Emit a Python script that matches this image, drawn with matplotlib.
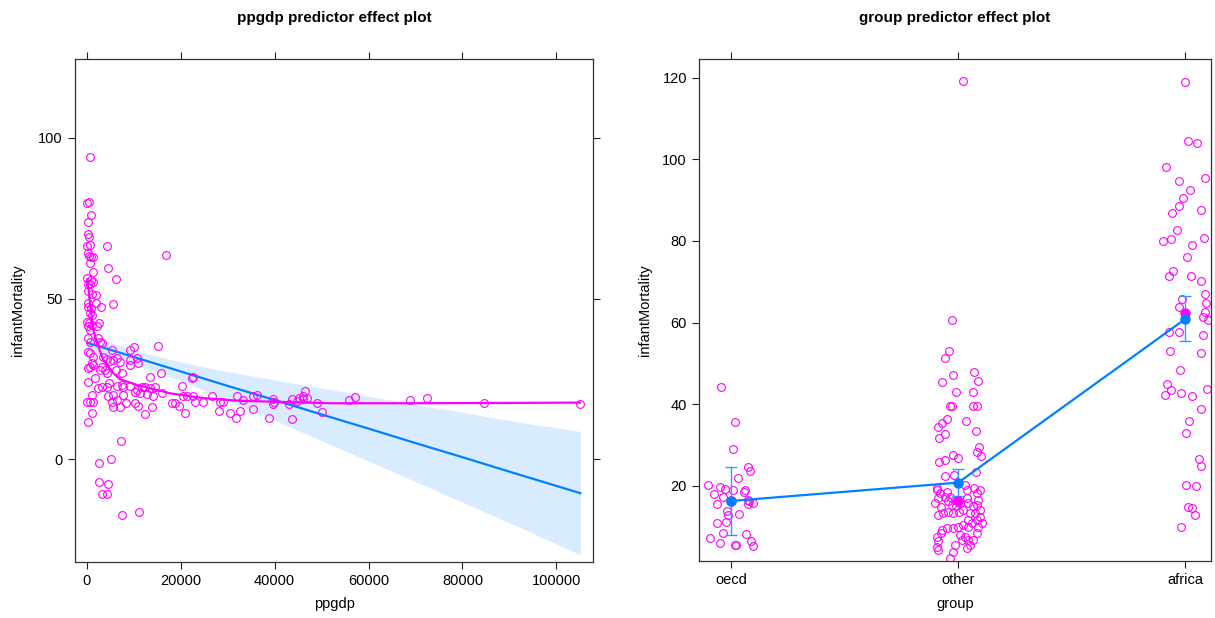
import matplotlib
matplotlib.use("Agg")
import matplotlib.pyplot as plt
import numpy as np

plt.rcParams['font.family'] = ['Liberation Sans', 'DejaVu Sans']

# ---------------- data: left panel (ppgdp partial residuals) ----------------
ppgdp = [680, 110, 530, 900, 320, 200, 530, 680, 110, 4240,
         200, 470, 830, 1380, 16800, 680, 4450, 1380, 6150,
         110, 830, 1380, 680, 320, 320, 1040, 1960, 5500,
         200, 320, 830, 1960, 2960, 680, 1040,
         110, 530, 1040, 2660, 2110, 200, 680,
         2450, 2810, 3170, 320, 680, 15230, 9200, 10050, 5300,
         200, 680, 1380, 1040, 320,
         3500, 4240, 4940, 5640, 6370, 7070,
         9200, 10630, 10970, 9200, 15740, 13460, 7430, 6220,
         680, 1380, 3170, 3880, 2810, 4370, 320, 1750, 22340, 22680,
         2450, 3170, 4240, 4800, 6370, 7430, 7780,
         9200, 10630, 11690, 12400, 13460, 14530, 20210,
         1040, 680, 110, 1380, 4580, 5640, 6370, 7650,
         10270, 11330, 12760, 14160, 15950,
         20560, 21280, 22680, 24820, 26600, 28370, 29070, 31930, 33340, 35460, 36190,
         5300, 5640, 7070, 8350, 10270, 10970,
         18080, 18790, 19700, 20920, 12400, 13820,
         28230, 30500, 31720, 32630, 35340, 1170, 320, 38870,
         7280, 2660, 5090, 2600, 4450, 3170, 4240, 7430, 11180,
         39720, 39590, 39870, 43070, 43770, 44710, 45260, 45990, 46480, 46840, 46120,
         43770, 48970, 50030, 55850, 57190, 68910, 72460, 84600, 105050, 23050]
partial_resid = [93.9, 79.7, 80.2, 76.1, 73.7, 70.2, 69.1, 66.7, 66.2, 66.4,
                 64.3, 63.3, 62.8, 62.8, 63.4, 61.2, 59.5, 58.4, 56.2,
                 56.4, 55.8, 55.0, 54.6, 54.6, 52.2, 51.4, 51.2, 48.3,
                 48.6, 47.5, 47.0, 48.6, 47.3, 45.4, 44.9,
                 42.8, 42.3, 41.8, 42.3, 41.3, 41.3, 40.2,
                 37.7, 36.6, 36.1, 37.7, 36.6, 35.3, 34.0, 34.9, 34.0,
                 33.5, 33.0, 31.9, 29.9, 28.3,
                 31.9, 31.1, 30.4, 30.9, 31.4, 30.1,
                 30.9, 31.4, 29.9, 29.3, 26.9, 25.7, 26.9, 27.8,
                 28.8, 29.3, 28.8, 27.8, 27.6, 26.8, 24.1, 25.2, 25.2, 25.7,
                 22.1, 22.6, 22.6, 23.6, 22.8, 23.1, 22.6,
                 22.8, 21.6, 22.4, 22.6, 22.1, 22.6, 22.8,
                 20.0, 17.9, 17.9, 17.9, 19.5, 20.0, 18.4, 20.0,
                 21.0, 20.5, 20.2, 19.5, 20.5,
                 19.5, 19.5, 19.5, 17.9, 19.5, 17.9, 17.9, 19.5, 18.4, 19.5, 20.0,
                 17.9, 16.2, 16.2, 17.4, 17.4, 16.6,
                 17.4, 17.6, 16.4, 14.3, 14.1, 16.2,
                 15.0, 14.3, 12.7, 15.0, 15.5, 14.3, 11.7, 12.7,
                 5.5, -1.1, 0.1, -7.2, -7.8, -10.9, -10.9, -17.4, -16.4,
                 18.8, 17.2, 17.9, 17.1, 18.8, 18.1, 19.0, 19.8, 21.2, 19.0, 18.8,
                 12.6, 17.4, 14.7, 18.5, 19.3, 18.3, 19.0, 17.6, 17.2, 17.8]

# fitted effect line and confidence band (read at a few ppgdp values)
eff_x = [115, 10000, 20000, 30000, 40000, 50000, 60000, 70000, 80000, 90000, 105095]
eff_fit = [36.2, 31.8, 27.3, 22.8, 18.4, 13.9, 9.5, 5.0, 0.6, -3.9, -10.6]
eff_lower = [33.6, 29.7, 24.4, 18.4, 12.1, 5.7, -0.6, -7.0, -13.4, -19.8, -29.8]
eff_upper = [38.8, 33.9, 30.2, 27.2, 24.7, 22.1, 19.6, 17.0, 14.6, 12.0, 8.6]

# loess smoother of the partial residuals
smooth_x = [115, 680, 1390, 2450, 3500, 5640, 7070, 10630, 17720, 24820,
            31930, 39020, 51800, 70000, 90000, 105050]
smooth_y = [56.0, 48.6, 40.2, 35.0, 30.9, 26.8, 24.9, 23.1, 20.5, 19.0,
            18.2, 17.9, 17.4, 17.4, 17.5, 17.6]

# ---------------- data: right panel (group) ----------------
groups = ["oecd", "other", "africa"]
group_fit = [16.3, 20.8, 60.9]
group_lower = [7.9, 17.5, 55.4]
group_upper = [24.7, 24.1, 66.4]
group_resid_mean = [16.2, 16.2, 62.4]

oecd_jit = [-0.045, 0.019, 0.007, 0.076, 0.085, 0.031, -0.1, -0.048, -0.026, -0.074,
            -0.034, 0.007, 0.062, 0.059, -0.063, 0.075, 0.076, 0.095, 0.08, -0.019,
            -0.015, 0.035, -0.063, -0.023, -0.034, -0.093, 0.067, -0.05, 0.088, 0.018,
            0.023, 0.098]
oecd_res = [44.2, 35.6, 29.1, 24.7, 23.6, 22.0, 20.2, 19.8, 19.2, 18.0,
            17.4, 19.0, 19.0, 18.6, 15.6, 16.6, 15.6, 15.9, 16.2, 13.9,
            12.9, 13.2, 11.0, 11.1, 8.4, 7.3, 8.2, 6.1, 6.6, 5.5,
            5.5, 5.3]

other_jit = [0.022, -0.026, -0.04, -0.057, -0.022, 0.07, 0.088, -0.07, -0.008, 0.067,
             -0.035, -0.026, 0.065, 0.085, -0.05, -0.07, -0.09, 0.033, -0.06, -0.083,
             0.08, 0.093, 0.083, 0.1, -0.022, 0.0, -0.06, -0.085, -0.06, -0.02, 0.079,
             -0.094, -0.079, -0.050, -0.035, -0.013, 0.009, 0.031, 0.041, 0.070, 0.082,
             0.097, -0.101, -0.076, -0.057, -0.028, 0.023, 0.045, 0.085, 0.089, -0.087,
             -0.065, -0.043, -0.021, 0.004, 0.053, 0.075, 0.094, 0.104, 0.045, 0.060,
             0.082, 0.045, 0.023, 0.001, -0.021, -0.050, -0.072, -0.076, -0.094, -0.087,
             -0.094, -0.087, -0.013, -0.021, 0.031, 0.045, 0.053, 0.041, 0.067, 0.082,
             0.089, 0.016, -0.035, 0.009, -0.095, -0.088, -0.044, -0.008, 0.038, 0.066,
             0.097]
other_res = [119.3, 60.7, 53.1, 51.3, 47.2, 47.8, 45.8, 45.4, 43.1, 43.0,
             39.6, 39.6, 39.6, 39.6, 36.5, 35.4, 34.5, 36.0, 32.7, 31.8,
             33.5, 29.6, 28.3, 27.2, 27.6, 26.8, 26.4, 25.8, 22.4, 22.7, 23.3,
             19.0, 18.2, 18.6, 17.4, 16.6, 15.8, 20.2, 19.0, 19.4, 18.2,
             19.0, 15.8, 14.9, 17.4, 15.4, 14.1, 15.8, 15.4, 16.6, 12.9,
             13.3, 13.7, 13.3, 13.7, 13.3, 13.3, 12.5, 10.9, 11.7, 10.9,
             11.7, 10.0, 10.5, 10.0, 9.6, 9.6, 9.2, 8.4, 7.6, 6.4,
             5.1, 4.3, 5.5, 3.9, 7.6, 6.8, 5.5, 4.9, 6.8, 8.4,
             10.0, 6.8, 2.3, 8.0, 19.4, 17.0, 16.2, 15.0, 17.0, 15.0,
             14.0]

africa_jit = [0.0, 0.01, 0.053, -0.085, -0.028, 0.088, 0.022, -0.011, -0.029, -0.057,
              0.069, -0.038, -0.098, -0.062, 0.081, 0.028, 0.007, -0.07, -0.055, 0.025,
              0.07, 0.085, 0.091, -0.016, -0.028, 0.087, 0.078, 0.099, -0.073, -0.026,
              0.077, -0.066, 0.069, -0.025, -0.081, -0.089, -0.065, -0.02, 0.03, 0.097,
              0.07, 0.015, 0.003, 0.062, 0.069, 0.003, 0.047, 0.013, 0.028, 0.044,
              -0.02]
africa_res = [118.9, 104.6, 104.1, 98.1, 94.6, 95.4, 92.6, 90.5, 88.6, 86.9,
              87.6, 82.6, 80.0, 80.5, 80.7, 78.9, 76.1, 71.5, 72.6, 71.5,
              70.1, 67.0, 64.9, 65.8, 63.9, 62.6, 61.3, 60.6, 57.6, 57.7,
              57.0, 53.0, 52.6, 48.4, 44.9, 42.2, 43.5, 42.7, 42.1, 43.8,
              38.9, 35.8, 33.0, 26.5, 24.9, 20.2, 20.0, 14.9, 14.5, 12.9,
              10.0]

# ---------------- styling ----------------
MAG = "#FF00FF"
BLUE = "#0080FF"
BAND = "#D9ECFF"
ERR = "#3399FF"
BOX = "#333333"
MS = 5.6

fig = plt.figure(figsize=(12.15, 6.18), dpi=100)
W, H = 1215.0, 618.0

def axes_px(l, t, r, b):
    return fig.add_axes([l / W, 1 - b / H, (r - l) / W, (b - t) / H])

ax1 = axes_px(75, 59.2, 593, 561.6)
ax2 = axes_px(699.4, 59.3, 1211, 561)

def style(ax, right=True):
    for s in ax.spines.values():
        s.set_color(BOX)
        s.set_linewidth(0.9)
    ax.tick_params(axis="both", which="both", direction="out", length=5, width=0.8,
                   color="#222222", labelsize=10.5, pad=4,
                   top=True, right=right, labeltop=False, labelright=False)

# left panel
ax1.fill_between(eff_x, eff_lower, eff_upper, color=BAND, lw=0, zorder=1)
ax1.plot(eff_x, eff_fit, color=BLUE, lw=1.6, zorder=3)
ax1.plot(ppgdp, partial_resid, ls="none", marker="o", mfc="none", mec=MAG,
         mew=0.8, ms=MS, zorder=4)
ax1.plot(smooth_x, smooth_y, color=MAG, lw=1.6, zorder=5)
ax1.set_xlim(-2513, 107800)
ax1.set_ylim(-31.9, 124.5)
ax1.set_xticks([0, 20000, 40000, 60000, 80000, 100000])
ax1.set_xticklabels(["0", "20000", "40000", "60000", "80000", "100000"])
ax1.set_yticks([0, 50, 100])
style(ax1)

# right panel
pos = {"oecd": 1, "other": 2, "africa": 3}
ax2.plot([pos["oecd"] + j for j in oecd_jit], oecd_res, ls="none", marker="o",
         mfc="none", mec=MAG, mew=0.8, ms=MS, zorder=2)
ax2.plot([pos["other"] + j for j in other_jit], other_res, ls="none", marker="o",
         mfc="none", mec=MAG, mew=0.8, ms=MS, zorder=2)
ax2.plot([pos["africa"] + j for j in africa_jit], africa_res, ls="none", marker="o",
         mfc="none", mec=MAG, mew=0.8, ms=MS, zorder=2)
xs = [pos[g] for g in groups]
yerr = [[f - lo for f, lo in zip(group_fit, group_lower)],
        [up - f for f, up in zip(group_fit, group_upper)]]
ax2.errorbar(xs, group_fit, yerr=yerr, fmt="none", ecolor=ERR, elinewidth=1.0,
             capsize=4.5, capthick=1.0, zorder=3)
ax2.plot(xs, group_resid_mean, ls="none", marker="o", color=MAG, ms=6.5, zorder=4)
ax2.plot(xs, group_fit, color=BLUE, lw=1.6, marker="o", ms=6.5, zorder=5)
ax2.set_xlim(0.861, 3.113)
ax2.set_ylim(1.6, 124.5)
ax2.set_xticks(xs)
ax2.set_xticklabels(groups)
ax2.set_yticks([20, 40, 60, 80, 100, 120])
style(ax2, right=False)

# titles and axis labels
fig.text(334 / W, 1 - 18 / H, "ppgdp predictor effect plot", ha="center", va="center",
         fontsize=11, fontweight="bold")
fig.text(955 / W, 1 - 18 / H, "group predictor effect plot", ha="center", va="center",
         fontsize=11, fontweight="bold")
fig.text(334 / W, 1 - 604 / H, "ppgdp", ha="center", va="center", fontsize=10.5)
fig.text(955 / W, 1 - 604 / H, "group", ha="center", va="center", fontsize=10.5)
fig.text(18 / W, 1 - 310 / H, "infantMortality", ha="center", va="center",
         rotation=90, fontsize=10.5)
fig.text(645 / W, 1 - 310 / H, "infantMortality", ha="center", va="center",
         rotation=90, fontsize=10.5)

fig.savefig("out.png", dpi=100)
